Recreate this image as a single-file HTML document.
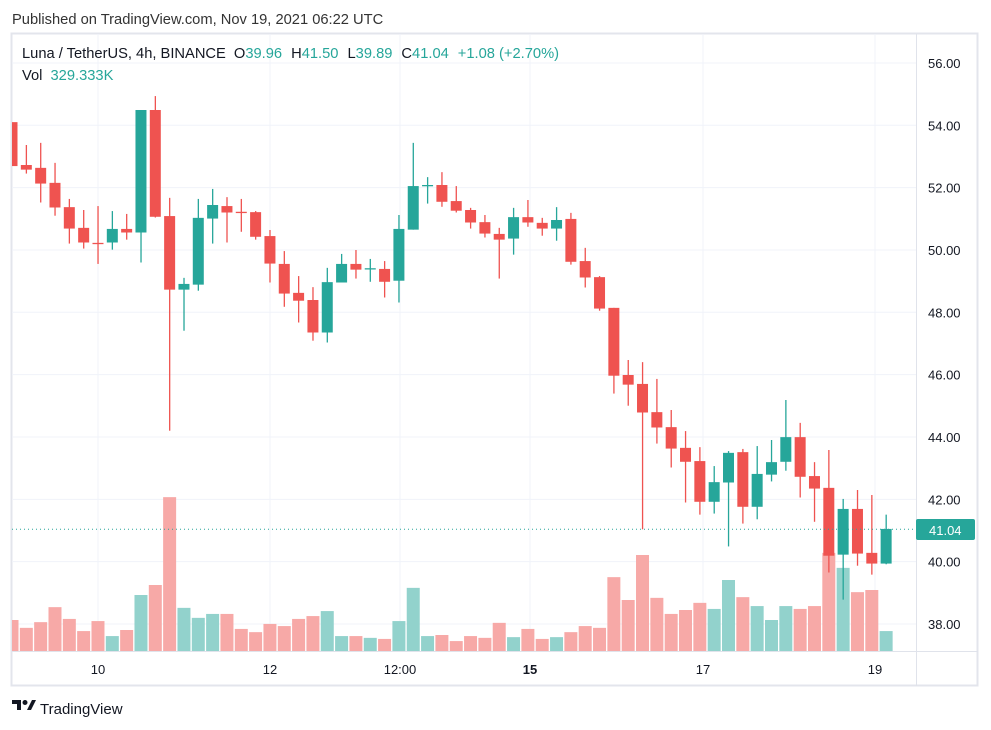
<!DOCTYPE html>
<html><head><meta charset="utf-8">
<style>
html,body{margin:0;padding:0;background:#fff;width:991px;height:730px;overflow:hidden;font-family:"Liberation Sans",sans-serif;}
svg text{font-family:"Liberation Sans",sans-serif;}
</style></head>
<body>
<svg id="s" width="991" height="730" xmlns="http://www.w3.org/2000/svg">
<rect x="0" y="0" width="991" height="730" fill="#fff"/>
<text x="12" y="24" font-size="14.7" fill="#333">Published on TradingView.com, Nov 19, 2021 06:22 UTC</text>
<rect x="11.5" y="33.5" width="966" height="652" fill="#fff" stroke="#e3e5ec" stroke-width="2"/>
<g id="grid"></g>
<g id="vol"></g>
<g id="cdl"></g>
<line x1="12" y1="529.3" x2="916" y2="529.3" stroke="#26a69a" stroke-width="1" stroke-dasharray="1,3"/>
<line x1="916.5" y1="34" x2="916.5" y2="686" stroke="#e0e3eb"/>
<line x1="12" y1="651.5" x2="978" y2="651.5" stroke="#e0e3eb"/>
<g id="axis" font-size="13" fill="#131722"></g>
<rect x="916" y="519" width="59" height="21" rx="2" fill="#26a69a"/>
<text x="929" y="535" font-size="13" fill="#fff">41.04</text>
<text x="22" y="58" font-size="14.7" fill="#131722">Luna / TetherUS, 4h, BINANCE <tspan dx="4">O</tspan><tspan fill="#26a69a">39.96</tspan><tspan dx="9">H</tspan><tspan fill="#26a69a">41.50</tspan><tspan dx="9">L</tspan><tspan fill="#26a69a">39.89</tspan><tspan dx="9">C</tspan><tspan fill="#26a69a">41.04</tspan><tspan dx="9" fill="#26a69a">+1.08 (+2.70%)</tspan></text>
<text x="22" y="80" font-size="14.7" fill="#131722">Vol <tspan dx="4" fill="#26a69a">329.333K</tspan></text>
<g transform="translate(12,700)"><path d="M0 0h9v10h-4v-6h-5z" fill="#131722"/><circle cx="13" cy="2.5" r="2.5" fill="#131722"/><path d="M15 10l5-10h4l-5 10z" fill="#131722"/></g>
<text x="40" y="714" font-size="15" fill="#131722">TradingView</text>
</svg>
<script>
var NS="http://www.w3.org/2000/svg";
function el(p,t,a){var e=document.createElementNS(NS,t);for(var k in a)e.setAttribute(k,a[k]);document.getElementById(p).appendChild(e);return e;}
function Y(z){return 90+z/2.8;}
var R="#ef5350",G="#26a69a",RV="#f7a9a7",GV="#92d2cc";
for(var p=38;p<=56;p+=2){var y=624-(p-38)*31.17;el("grid","line",{x1:12,x2:916,y1:y,y2:y,stroke:"#f0f3fa"});
 var t=el("axis","text",{x:928,y:y+5});t.textContent=p.toFixed(2);}
var xl=[[98,"10"],[270,"12"],[400,"12:00"],[530,"15"],[703,"17"],[875,"19"]];
xl.forEach(function(a){el("grid","line",{x1:a[0],x2:a[0],y1:34,y2:651,stroke:"#f0f3fa"});
 var t=el("axis","text",{x:a[0],y:674,"text-anchor":"middle"});t.textContent=a[1];if(a[1]=="15")t.setAttribute("font-weight","bold");});
var D=[
[R,90,213,90,213,1484],
[R,210,223,154,234,1506],[R,218,262,148,315,1490],[R,260,329,204,352,1448],[R,328,388,305,430,1481],[R,386,427,336,444,1515],
[R,428,431,325,487,1487],[G,389,427,339,447,1529],[R,389,399,347,419,1512],[G,56,399,56,483,1414],[R,56,355,17,357,1386],
[R,353,559,302,954,1140],[G,543,559,526,674,1450],[G,358,545,305,562,1478],[G,322,360,277,430,1467],[R,325,343,300,427,1467],
[R,341,343,305,397,1509],[R,342,411,339,419,1518],[R,409,486,392,539,1495],[R,487,570,451,607,1501],[R,568,590,521,651,1481],
[R,588,679,552,702,1473],[G,538,679,498,707,1459],[G,487,539,459,539,1529],[R,487,503,448,528,1529],[G,499,501,473,537,1534],
[R,501,537,479,581,1537],[G,389,534,350,595,1487],[G,269,391,148,391,1394],[G,266,268,244,318,1529],[R,266,313,230,327,1526],
[R,311,338,269,343,1543],[R,336,371,330,388,1529],[R,370,402,350,413,1534],[R,403,419,386,528,1492],[G,356,416,330,461,1532],
[R,356,371,308,383,1509],[R,372,388,358,408,1537],[G,364,388,328,422,1532],[R,361,481,344,489,1518],[R,479,525,442,553,1501],
[R,524,612,521,618,1506],[R,610,800,610,850,1364],[R,798,825,756,884,1428],[R,823,903,762,1230,1302],[R,902,945,809,990,1422],
[R,944,1004,896,1057,1467],[R,1002,1041,955,1155,1456],[R,1039,1153,1000,1189,1436],[G,1098,1153,1053,1186,1453],[G,1016,1099,1011,1278,1372],
[R,1014,1167,1005,1214,1420],[G,1075,1167,997,1202,1445],[G,1042,1077,980,1096,1484],[G,972,1041,868,1066,1445],[R,972,1083,932,1141,1453],
[R,1081,1116,1042,1209,1445],[R,1114,1304,1008,1351,1296],[G,1173,1301,1145,1427,1338],[R,1173,1298,1120,1332,1406],[R,1296,1326,1134,1357,1400],
[G,1229,1326,1189,1328,1515]];
D.forEach(function(d,i){
 var x=12+i*14.33; var c=d[0];
 var vx=Math.max(12,x-6.5), vw=Math.min(x+6.5,916)-vx;
 el("vol","rect",{x:vx,y:Y(d[5]),width:vw,height:652-Y(d[5]),fill:c==R?RV:GV});
 if(i>0)el("cdl","rect",{x:x-0.6,y:Y(d[3]),width:1.3,height:Y(d[4])-Y(d[3]),fill:c});
 var bx=Math.max(12,x-5.5), bw=x+5.5-bx, bt=Y(d[1]), bh=Math.max(1.3,Y(d[2])-bt);
 el("cdl","rect",{x:bx,y:bt,width:bw,height:bh,fill:c});
});
</script>
</body></html>
